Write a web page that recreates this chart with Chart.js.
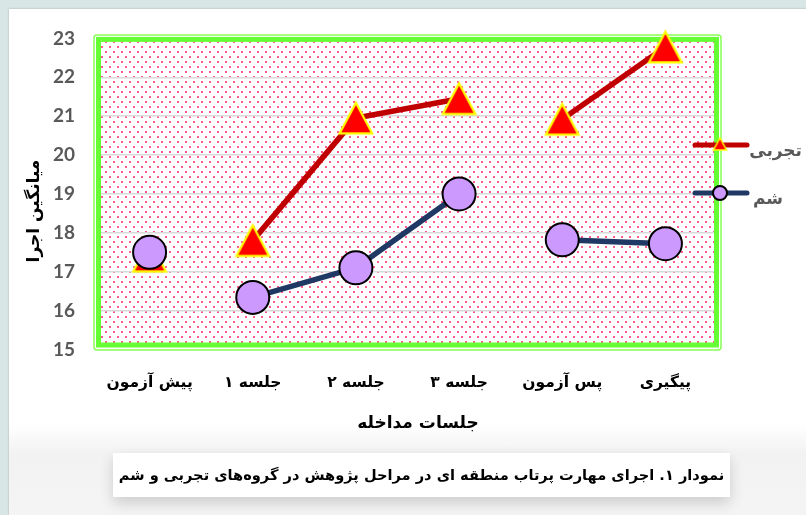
<!DOCTYPE html>
<html>
<head>
<meta charset="utf-8">
<script src="https://cdn.jsdelivr.net/npm/chart.js@4/dist/chart.umd.min.js"></script>
<style>
  html, body { margin: 0; padding: 0; }
  body { width: 806px; height: 515px; background: #d9e6e6; position: relative; overflow: hidden; }
  #panel {
    position: absolute; left: 9px; top: 9px; width: 797px; height: 506px;
    background: linear-gradient(#fff 0, #fff 415px, #f2f2f2 445px, #f4f4f4 100%);
    box-shadow: 0 0 2px rgba(0, 0, 0, 0.25);
  }
  #wrap { position: absolute; left: 0; top: 0; width: 806px; height: 440px; }
  #caption {
    position: absolute; left: 113px; top: 453px; width: 617px; height: 44px;
    background: #fff; box-shadow: 0 6px 14px rgba(0, 0, 0, 0.16);
    font: bold 14.6px 'DejaVu Sans', sans-serif; color: #000;
    direction: rtl; text-align: center; line-height: 44px; white-space: nowrap;
  }
</style>
</head>
<body>
<div id="panel"></div>
<div id="wrap"><canvas id="sessionChart" width="806" height="440"></canvas></div>
<div id="caption">نمودار ۱. اجرای مهارت پرتاب منطقه ای در مراحل پژوهش در گروه‌های تجربی و شم</div>
<script>
  // data
  const sessions = ['پیش آزمون', 'جلسه ۱', 'جلسه ۲', 'جلسه ۳', 'پس آزمون', 'پیگیری'];
  const experimental = [17.4, 17.8, 20.95, 21.45, 20.92, 22.78];
  const sham = [17.5, 16.34, 17.1, 19.0, 17.82, 17.72];
  const seriesNames = ['تجربی', 'شم'];
  const yMin = 15;
  const yMax = 23;
  const breakAfter = [0, 3];   // no line drawn from these points to the next one

  const yTitle = 'میانگین اجرا';
  const xTitle = 'جلسات مداخله';

  // red triangle with yellow edge, centred on its box like Excel does
  function triangleMarker(w, h, lw) {
    const c = document.createElement('canvas');
    c.width = w; c.height = h;
    const g = c.getContext('2d');
    const m = lw + 0.5;
    g.beginPath();
    g.moveTo(w / 2, m);
    g.lineTo(w - m, h - m);
    g.lineTo(m, h - m);
    g.closePath();
    g.fillStyle = '#ff0000';
    g.fill();
    g.lineWidth = lw;
    g.strokeStyle = '#ffff00';
    g.stroke();
    return c;
  }
  const bigTriangle = triangleMarker(38, 36, 2.2);
  const smallTriangle = triangleMarker(17, 16, 1.5);

  function dotPattern(ctx) {
    const c = document.createElement('canvas');
    c.width = 8; c.height = 10;
    const g = c.getContext('2d');
    g.fillStyle = '#ffffff';
    g.fillRect(0, 0, 8, 10);
    g.fillStyle = '#ff5c8d';
    g.fillRect(1, 1, 2, 2);
    g.fillRect(5, 6, 2, 2);
    return ctx.createPattern(c, 'repeat');
  }

  function gapped(color) {
    return ctx => breakAfter.includes(ctx.p0DataIndex) ? 'rgba(0,0,0,0)' : color;
  }

  const plotFrame = {
    id: 'plotFrame',
    beforeDraw(chart) {
      const { ctx, chartArea: a } = chart;
      ctx.save();
      ctx.fillStyle = dotPattern(ctx);
      ctx.fillRect(a.left, a.top, a.right - a.left, a.bottom - a.top - 4);
      ctx.restore();
    },
    beforeDatasetsDraw(chart) {
      const { ctx, chartArea: a } = chart;
      const top = a.top + 1, bottom = a.bottom - 4.5;
      ctx.save();
      ctx.strokeStyle = '#88ff55';
      ctx.lineWidth = 1.5;
      ctx.beginPath();
      ctx.roundRect(a.left - 4, top - 4.5, a.right - a.left + 8, bottom - top + 9.5, 3);
      ctx.stroke();
      ctx.strokeStyle = '#66ff33';
      ctx.lineWidth = 5;
      ctx.strokeRect(a.left + 0.5, top, a.right - a.left - 1, bottom - top);
      ctx.restore();
    },
    afterDraw(chart) {
      const { ctx } = chart;
      ctx.save();
      // axis titles
      ctx.fillStyle = '#000';
      ctx.textAlign = 'center';
      ctx.textBaseline = 'middle';
      ctx.font = 'bold 17px "DejaVu Sans"';
      ctx.fillText(xTitle, 418, 424);
      ctx.translate(35, 211);
      ctx.rotate(-Math.PI / 2);
      ctx.fillText(yTitle, 0, 0);
      ctx.restore();

      // legend on the right edge
      ctx.save();
      const rows = [145, 193];
      chart.data.datasets.forEach((ds, i) => {
        const y = rows[i];
        ctx.strokeStyle = ds.borderColor;
        ctx.lineWidth = 5;
        ctx.lineCap = 'round';
        ctx.beginPath();
        ctx.moveTo(695, y);
        ctx.lineTo(747, y);
        ctx.stroke();
        if (i === 0) {
          ctx.drawImage(smallTriangle, 720 - 8.5, y - 9);
        } else {
          ctx.beginPath();
          ctx.arc(720, y, 7, 0, Math.PI * 2);
          ctx.fillStyle = ds.pointBackgroundColor;
          ctx.fill();
          ctx.lineWidth = 2;
          ctx.strokeStyle = '#000';
          ctx.stroke();
        }
        ctx.fillStyle = '#595959';
        ctx.font = 'bold 17px "DejaVu Sans"';
        ctx.textAlign = 'left';
        ctx.textBaseline = 'middle';
        ctx.direction = 'ltr';
        const w = ctx.measureText(ds.label).width;
        ctx.fillText(ds.label, Math.min(753, 802 - w), y + 7);
      });
      ctx.restore();
    }
  };

  const ctxLine = document.getElementById('sessionChart').getContext('2d');
  new Chart(ctxLine, {
    type: 'line',
    data: {
      labels: sessions,
      datasets: [{
        label: seriesNames[0],
        data: experimental,
        order: 1,
        borderColor: '#c00000',
        borderWidth: 5.5,
        pointStyle: bigTriangle,
        pointBackgroundColor: '#ff0000',
        segment: { borderColor: gapped('#c00000') },
        clip: false
      }, {
        label: seriesNames[1],
        data: sham,
        order: 0,
        borderColor: '#1f3864',
        borderWidth: 5.5,
        pointStyle: 'circle',
        pointRadius: 16.5,
        pointBorderWidth: 2,
        pointBorderColor: '#000000',
        pointBackgroundColor: '#cc99ff',
        segment: { borderColor: gapped('#1f3864') },
        clip: false
      }]
    },
    options: {
      responsive: false,
      animation: false,
      events: [],
      layout: { padding: { left: 0, top: 38.4, right: 89, bottom: 30.5 } },
      plugins: {
        legend: { display: false },
        tooltip: { enabled: false }
      },
      scales: {
        x: {
          offset: true,
          grid: { display: false },
          border: { display: false },
          ticks: {
            color: '#000',
            padding: 16,
            font: { family: 'DejaVu Sans', size: 15.5, weight: 'bold' }
          },
          afterFit(scale) { scale.height = 60; }
        },
        y: {
          min: yMin,
          max: yMax,
          border: { display: false },
          grid: {
            drawTicks: false,
            lineWidth: 1.5,
            color: c => (c.tick && (c.tick.value === yMin || c.tick.value === yMax)) ? 'rgba(0,0,0,0)' : '#d9d9d9'
          },
          ticks: {
            stepSize: 1,
            color: '#595959',
            padding: 23,
            font: { family: 'Lato', size: 19, weight: 'bold' }
          },
          afterFit(scale) { scale.width = 98; }
        }
      }
    },
    plugins: [plotFrame]
  });
</script>
</body>
</html>
